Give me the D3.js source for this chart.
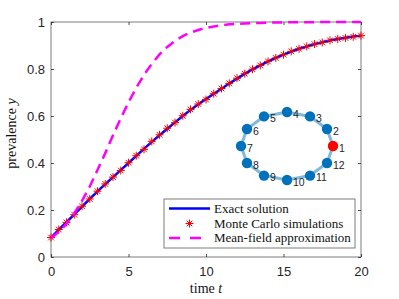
<!DOCTYPE html>
<html>
<head>
<meta charset="utf-8">
<script src="https://cdn.jsdelivr.net/npm/d3@7"></script>
<style>
  html, body { margin: 0; padding: 0; background: #fff; overflow: hidden; }
  svg { display: block; }
</style>
<script>
// time points (every 0.5)
const times = d3.range(0, 20.01, 0.5);

// exact solution
const exactValues = [
  0.081, 0.116, 0.148, 0.181, 0.214, 0.247, 0.279, 0.310, 0.340, 0.370,
  0.400, 0.430, 0.460, 0.490, 0.518, 0.546, 0.573, 0.600, 0.626, 0.650,
  0.672, 0.694, 0.716, 0.738, 0.759, 0.779, 0.798, 0.815, 0.832, 0.847,
  0.861, 0.874, 0.886, 0.896, 0.906, 0.914, 0.921, 0.928, 0.933, 0.938, 0.942
];

// Monte Carlo markers
const mcValues = [
  0.083, 0.117, 0.147, 0.180, 0.216, 0.247, 0.280, 0.311, 0.340, 0.368,
  0.401, 0.431, 0.458, 0.492, 0.520, 0.548, 0.572, 0.601, 0.628, 0.651,
  0.670, 0.695, 0.717, 0.739, 0.761, 0.780, 0.799, 0.815, 0.832, 0.847,
  0.861, 0.875, 0.886, 0.896, 0.906, 0.913, 0.922, 0.928, 0.932, 0.937, 0.942
];

// mean-field approximation
const meanFieldValues = [
  0.080, 0.107, 0.141, 0.185, 0.239, 0.300, 0.370, 0.442, 0.518, 0.590,
  0.658, 0.720, 0.775, 0.822, 0.862, 0.894, 0.920, 0.940, 0.955, 0.966,
  0.975, 0.981, 0.986, 0.990, 0.992, 0.994, 0.995, 0.996, 0.997, 0.998,
  0.998, 0.999, 0.999, 0.999, 0.999, 1.000, 1.000, 1.000, 1.000, 1.000, 1.000
];

const xTicks = [0, 5, 10, 15, 20];
const yTicks = [0, 0.2, 0.4, 0.6, 0.8, 1];

// ring network inset (circle layout, node 1 infected)
const nodeIds = [1, 2, 3, 4, 5, 6, 7, 8, 9, 10, 11, 12];
const nodeX = [1, 0.87, 0.5, 0, -0.5, -0.87, -1, -0.87, -0.5, 0, 0.5, 0.87];
const nodeY = [0, 0.5, 0.87, 1, 0.87, 0.5, 0, -0.5, -0.87, -1, -0.87, -0.5];
const infected = [1];

const legendLabels = ["Exact solution", "Monte Carlo simulations", "Mean-field approximation"];

function draw() {
  const width = 399, height = 299;
  const margins = { top: 22, right: 38, bottom: 42, left: 51 };
  const innerWidth = width - margins.left - margins.right;
  const innerHeight = height - margins.top - margins.bottom;

  const svg = d3.select("#chart").append("svg")
    .attr("width", width)
    .attr("height", height);

  const mainG = svg.append("g")
    .attr("transform", `translate(${margins.left},${margins.top})`);

  const xScale = d3.scaleLinear().domain([0, 20]).range([0, innerWidth]);
  const yScale = d3.scaleLinear().domain([0, 1]).range([innerHeight, 0]);

  const axisColor = "#262626";
  const tickFont = "'Liberation Sans', Arial, sans-serif";
  const serifFont = "'Liberation Serif', 'Times New Roman', serif";

  // axes with inward ticks
  function styleAxis(g) {
    g.select(".domain").remove();
    g.selectAll("line").attr("stroke", axisColor).attr("stroke-width", 0.8);
    g.selectAll("text").attr("fill", axisColor)
      .attr("font-family", tickFont).attr("font-size", "13px");
  }

  mainG.append("g")
    .attr("transform", `translate(0,${innerHeight})`)
    .call(d3.axisBottom(xScale).tickValues(xTicks).tickSize(-3).tickPadding(10).tickFormat(d3.format("d")))
    .call(styleAxis);
  mainG.append("g")
    .call(d3.axisTop(xScale).tickValues(xTicks).tickSize(-3))
    .call(styleAxis)
    .call((g) => g.selectAll("text").remove());
  mainG.append("g")
    .call(d3.axisLeft(yScale).tickValues(yTicks).tickSize(-3).tickPadding(6).tickFormat((d) => d === 0 || d === 1 ? d : d3.format(".1f")(d)))
    .call(styleAxis);
  mainG.append("g")
    .attr("transform", `translate(${innerWidth},0)`)
    .call(d3.axisRight(yScale).tickValues(yTicks).tickSize(-3))
    .call(styleAxis)
    .call((g) => g.selectAll("text").remove());

  // box
  mainG.append("rect")
    .attr("x", 0).attr("y", 0)
    .attr("width", innerWidth).attr("height", innerHeight)
    .attr("fill", "none").attr("stroke", axisColor).attr("stroke-opacity", 0.6).attr("stroke-width", 1);

  // curves
  const line = (vals) => d3.line()
    .x((d, i) => xScale(times[i]))
    .y((d) => yScale(d))(vals);

  mainG.append("path")
    .attr("d", line(exactValues))
    .attr("fill", "none").attr("stroke", "#0000ff").attr("stroke-width", 2.5);

  const starPath = (r) => {
    const d = r * 0.707;
    return `M${-r},0L${r},0M0,${-r}L0,${r}M${-d},${-d}L${d},${d}M${-d},${d}L${d},${-d}`;
  };

  mainG.append("g").selectAll("path.mc")
    .data(mcValues)
    .join("path")
    .attr("class", "mc")
    .attr("transform", (d, i) => `translate(${xScale(times[i])},${yScale(d)})`)
    .attr("d", starPath(4))
    .attr("stroke", "#ff0000").attr("stroke-width", 1).attr("fill", "none");

  mainG.append("path")
    .attr("d", line(meanFieldValues))
    .attr("fill", "none").attr("stroke", "#ff00ff").attr("stroke-width", 2.5)
    .attr("stroke-dasharray", "10,6");

  // ring network inset
  const gx = d3.scaleLinear().domain([-1, 1]).range([190, 282]);
  const gy = d3.scaleLinear().domain([-1, 1]).range([158, 90]);
  const netG = mainG.append("g");
  const ringIdx = nodeIds.map((d, i) => [i, (i + 1) % nodeIds.length]);

  netG.selectAll("line")
    .data(ringIdx)
    .join("line")
    .attr("x1", (d) => gx(nodeX[d[0]])).attr("y1", (d) => gy(nodeY[d[0]]))
    .attr("x2", (d) => gx(nodeX[d[1]])).attr("y2", (d) => gy(nodeY[d[1]]))
    .attr("stroke", "#80b9de").attr("stroke-width", 3);

  netG.selectAll("circle")
    .data(nodeIds)
    .join("circle")
    .attr("cx", (d, i) => gx(nodeX[i]))
    .attr("cy", (d, i) => gy(nodeY[i]))
    .attr("r", 5.2)
    .attr("fill", (d) => infected.includes(d) ? "#ff0000" : "#0072bd");

  netG.selectAll("text")
    .data(nodeIds)
    .join("text")
    .attr("x", (d, i) => gx(nodeX[i]) + 6)
    .attr("y", (d, i) => gy(nodeY[i]) + 5.5)
    .attr("font-family", tickFont).attr("font-size", "10.5px").attr("fill", axisColor)
    .text((d) => d);

  // legend
  const legendG = mainG.append("g").attr("transform", "translate(113,177)");
  legendG.append("rect")
    .attr("width", 191).attr("height", 49)
    .attr("fill", "#fff").attr("stroke", axisColor).attr("stroke-opacity", 0.6).attr("stroke-width", 1);

  const rowY = [9.5, 24.5, 39];
  legendG.append("line")
    .attr("x1", 5).attr("x2", 46).attr("y1", rowY[0]).attr("y2", rowY[0])
    .attr("stroke", "#0000ff").attr("stroke-width", 2.5);
  legendG.append("path")
    .attr("transform", `translate(25.5,${rowY[1]})`)
    .attr("d", starPath(4))
    .attr("stroke", "#ff0000").attr("stroke-width", 1).attr("fill", "none");
  legendG.append("line")
    .attr("x1", 5).attr("x2", 46).attr("y1", rowY[2]).attr("y2", rowY[2])
    .attr("stroke", "#ff00ff").attr("stroke-width", 2.5).attr("stroke-dasharray", "11,10");

  legendG.selectAll("text")
    .data(legendLabels)
    .join("text")
    .attr("x", 50)
    .attr("y", (d, i) => rowY[i] + 4)
    .attr("font-family", serifFont).attr("font-size", "13px").attr("fill", "#111")
    .text((d) => d);

  // axis labels
  svg.append("text")
    .attr("x", margins.left + innerWidth / 2)
    .attr("y", 293)
    .attr("text-anchor", "middle")
    .attr("font-family", serifFont).attr("font-size", "14px").attr("fill", "#111")
    .call((t) => {
      t.append("tspan").text("time ");
      t.append("tspan").attr("font-style", "italic").text("t");
    });

  svg.append("text")
    .attr("transform", `translate(16,${margins.top + innerHeight / 2 - 6}) rotate(-90)`)
    .attr("text-anchor", "middle")
    .attr("font-family", serifFont).attr("font-size", "14px").attr("fill", "#111")
    .call((t) => {
      t.append("tspan").text("prevalence ");
      t.append("tspan").attr("font-style", "italic").text("y");
    });
}

window.addEventListener("DOMContentLoaded", draw);
</script>
</head>
<body>
<div id="chart"></div>
</body>
</html>
